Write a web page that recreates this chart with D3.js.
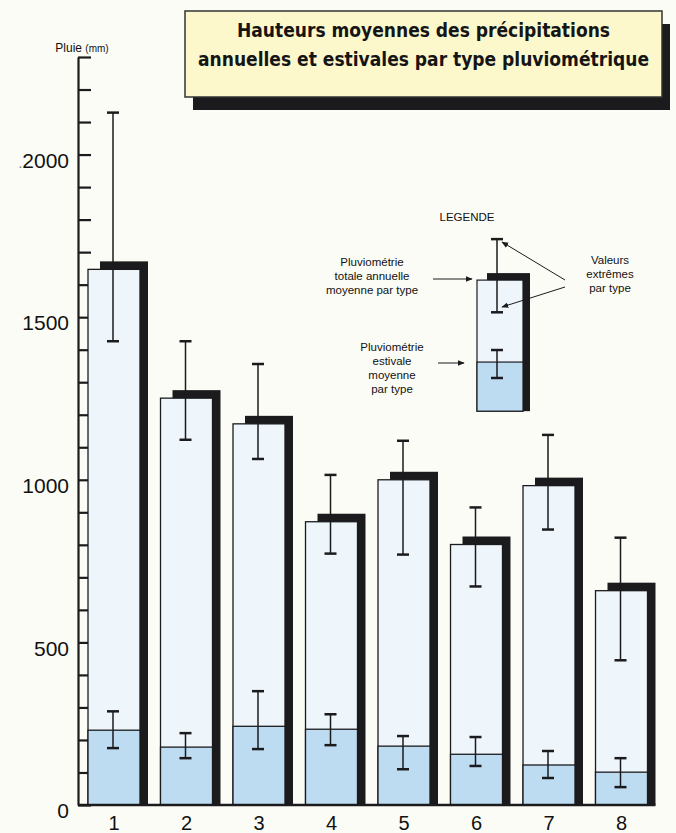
<!DOCTYPE html>
<html>
<head>
<meta charset="utf-8">
<script src="https://cdn.jsdelivr.net/npm/d3@7"></script>
<style>
  html, body { margin: 0; padding: 0; background: #fcfcf6; }
  svg { display: block; }
</style>
</head>
<body>
<div id="chart"></div>
<script>
// ---- DATA ----
const categories   = ["1", "2", "3", "4", "5", "6", "7", "8"];
const annualMean   = [1647, 1251, 1172, 871, 1000, 801, 982, 659];
const annualMax    = [2129, 1426, 1356, 1015, 1120, 915, 1138, 822];
const annualMin    = [1426, 1123, 1064, 773, 770, 672, 847, 445];
const summerMean   = [230, 178, 242, 233, 181, 156, 123, 101];
const summerMax    = [288, 221, 350, 279, 212, 209, 166, 144];
const summerMin    = [175, 144, 172, 184, 110, 120, 83, 55];
const yLabelTicks  = [0, 500, 1000, 1500, 2000];
const yMinorTicks  = d3.range(0, 2301, 100);
const titleLines   = ["Hauteurs moyennes des précipitations",
                      "annuelles et estivales par type pluviométrique"];
const yAxisTitle   = ["Pluie", "(mm)"];
// legend sample (illustrative values shown in the legend glyph)
const legendSample = { base: 1211, annual: 1614, annualMax: 1740, annualMin: 1515,
                       summer: 1362, summerMax: 1399, summerMin: 1313 };
const legendTexts = {
  title: "LEGENDE",
  annual: ["Pluviométrie", "totale annuelle", "moyenne par type"],
  summer: ["Pluviométrie", "estivale", "moyenne", "par type"],
  extremes: ["Valeurs", "extrêmes", "par type"]
};

// ---- SETUP ----
const W = 676, H = 833;
const C = { dark: "#1b1b1d", light: "#eef6fc", summer: "#bddcf2", title: "#fcf8cc" };
const FONT = "'Liberation Sans', Arial, Helvetica, sans-serif";
const TFONT = "'Liberation Sans Narrow', 'DejaVu Sans Condensed', 'Liberation Sans', sans-serif";

const svg = d3.select("#chart").append("svg")
  .attr("width", W).attr("height", H)
  .style("background", "#fcfcf6");

const y = d3.scaleLinear().domain([0, 2300]).range([805, 57]);
const x = d3.scaleBand().domain(categories)
  .range([78, 657.5]).paddingInner(0.283).paddingOuter(0.138);

const data = categories.map((c, i) => ({
  c, a: annualMean[i], aMax: annualMax[i], aMin: annualMin[i],
  s: summerMean[i], sMax: summerMax[i], sMin: summerMin[i]
}));

// ---- Y AXIS (ticks pointing right, behind bars) ----
const axisG = svg.append("g").attr("transform", "translate(78,0)");
axisG.call(d3.axisRight(y).tickValues(yMinorTicks).tickSize(13).tickSizeOuter(0).tickFormat(""));
axisG.select(".domain").attr("stroke", C.dark).attr("stroke-width", 2.2);
axisG.selectAll(".tick line").attr("stroke", C.dark).attr("stroke-width", 2.2);

const labG = svg.append("g").attr("transform", "translate(78,0)");
labG.call(d3.axisLeft(y).tickValues(yLabelTicks).tickSize(0).tickPadding(9)
  .tickFormat(d3.format("d")));
labG.select(".domain").remove();
labG.selectAll(".tick text")
  .attr("font-family", FONT).attr("font-size", 21).attr("fill", "#111")
  .attr("dy", "0.32em").attr("y", 6);
// faint printing dot before 2000
labG.selectAll(".tick text").filter(d => d === 2000)
  .text(null)
  .call(t => { t.append("tspan").attr("fill", "#777").attr("font-size", 14).text(".");
               t.append("tspan").text("2000"); });

// y axis title
svg.append("text")
  .attr("x", 82).attr("y", 52)
  .attr("text-anchor", "middle").attr("font-family", FONT).attr("fill", "#111")
  .call(t => { t.append("tspan").attr("font-size", 12).text(yAxisTitle[0] + " ");
               t.append("tspan").attr("font-size", 10).text(yAxisTitle[1]); });

// ---- BARS ----
const base = y(0);
const bw = x.bandwidth();
const bars = svg.append("g");

// shadows
bars.selectAll("rect.shadow").data(data).join("rect")
  .attr("class", "shadow")
  .attr("x", d => x(d.c) + 12).attr("width", bw - 4)
  .attr("y", d => y(d.a) - 8).attr("height", d => base - y(d.a) + 8)
  .attr("fill", C.dark);

// annual bars
bars.selectAll("rect.annual").data(data).join("rect")
  .attr("class", "annual")
  .attr("x", d => x(d.c)).attr("width", bw)
  .attr("y", d => y(d.a)).attr("height", d => base - y(d.a))
  .attr("fill", C.light).attr("stroke", C.dark).attr("stroke-width", 1.3);

// summer bars
bars.selectAll("rect.summer").data(data).join("rect")
  .attr("class", "summer")
  .attr("x", d => x(d.c)).attr("width", bw)
  .attr("y", d => y(d.s)).attr("height", d => base - y(d.s))
  .attr("fill", C.summer).attr("stroke", C.dark).attr("stroke-width", 1.3);

// error bars
function errorBar(g, cx, yTop, yBot) {
  g.append("line").attr("x1", cx).attr("x2", cx).attr("y1", yTop).attr("y2", yBot)
    .attr("stroke", C.dark).attr("stroke-width", 1.5);
  [yTop, yBot].forEach(yy => g.append("line")
    .attr("x1", cx - 6).attr("x2", cx + 6).attr("y1", yy).attr("y2", yy)
    .attr("stroke", C.dark).attr("stroke-width", 2.5));
}
const eg = svg.append("g");
data.forEach(d => {
  const cx = x(d.c) + bw / 2 - 1;
  errorBar(eg, cx, y(d.aMax), y(d.aMin));
  errorBar(eg, cx, y(d.sMax), y(d.sMin));
});

// baseline
svg.append("line").attr("x1", 78).attr("x2", x(categories[7]) + bw + 8)
  .attr("y1", base).attr("y2", base).attr("stroke", C.dark).attr("stroke-width", 2.5);

// x labels
svg.append("g").selectAll("text").data(categories).join("text")
  .attr("x", d => x(d) + bw / 2).attr("y", 830)
  .attr("text-anchor", "middle").attr("font-family", FONT).attr("font-size", 20)
  .attr("fill", "#111").text(d => d);

// ---- TITLE BOX ----
const tb = { x: 185, y: 11, w: 477, h: 86 };
svg.append("rect").attr("x", tb.x + 8).attr("y", tb.y + 13).attr("width", tb.w).attr("height", tb.h)
  .attr("fill", C.dark);
svg.append("rect").attr("x", tb.x).attr("y", tb.y).attr("width", tb.w).attr("height", tb.h)
  .attr("fill", C.title).attr("stroke", "#333").attr("stroke-width", 1.5);
const tLens = [373, 451];
svg.append("g").selectAll("text").data(titleLines).join("text")
  .attr("x", tb.x + tb.w / 2).attr("y", (d, i) => 37 + i * 29)
  .attr("text-anchor", "middle").attr("font-family", TFONT).attr("font-weight", "bold")
  .attr("font-size", 20).attr("fill", "#151515")
  .attr("textLength", (d, i) => tLens[i]).attr("lengthAdjust", "spacingAndGlyphs")
  .text(d => d);

// ---- LEGEND ----
const defs = svg.append("defs");
defs.append("marker").attr("id", "arr").attr("viewBox", "0 0 10 10")
  .attr("refX", 9).attr("refY", 5).attr("markerWidth", 7).attr("markerHeight", 7)
  .attr("orient", "auto-start-reverse")
  .append("path").attr("d", "M0,1 L10,5 L0,9 z").attr("fill", C.dark);

const lg = svg.append("g");
const lx = 477, lw = 46;
const lb = y(legendSample.base);
lg.append("rect").attr("x", lx + 10).attr("width", lw - 3)
  .attr("y", y(legendSample.annual) - 7).attr("height", lb - y(legendSample.annual) + 7)
  .attr("fill", C.dark);
lg.append("rect").attr("x", lx).attr("width", lw)
  .attr("y", y(legendSample.annual)).attr("height", lb - y(legendSample.annual))
  .attr("fill", C.light).attr("stroke", C.dark).attr("stroke-width", 1.2);
lg.append("rect").attr("x", lx).attr("width", lw)
  .attr("y", y(legendSample.summer)).attr("height", lb - y(legendSample.summer))
  .attr("fill", C.summer).attr("stroke", C.dark).attr("stroke-width", 1.2);
errorBar(lg, lx + 20, y(legendSample.annualMax), y(legendSample.annualMin));
errorBar(lg, lx + 20, y(legendSample.summerMax), y(legendSample.summerMin));

function textBlock(lines, cx, y0, dy, anchor) {
  lg.append("g").selectAll("text").data(lines).join("text")
    .attr("x", cx).attr("y", (d, i) => y0 + i * dy)
    .attr("text-anchor", anchor || "middle").attr("font-family", FONT)
    .attr("font-size", 11.5).attr("fill", "#111").text(d => d);
}
lg.append("text").attr("x", 467).attr("y", 221).attr("text-anchor", "middle")
  .attr("font-family", FONT).attr("font-size", 11.5).attr("fill", "#111").text(legendTexts.title);
textBlock(legendTexts.annual, 372, 266, 14);
textBlock(legendTexts.summer, 392, 351, 14);
textBlock(legendTexts.extremes, 610, 264, 14);

function arrow(x1, y1, x2, y2) {
  lg.append("line").attr("x1", x1).attr("y1", y1).attr("x2", x2).attr("y2", y2)
    .attr("stroke", C.dark).attr("stroke-width", 1).attr("marker-end", "url(#arr)");
}
arrow(433, 279, 472, 279);
arrow(438, 363, 464, 363);
arrow(565, 280, 502, 242);
arrow(565, 287, 502, 307);
</script>
</body>
</html>
